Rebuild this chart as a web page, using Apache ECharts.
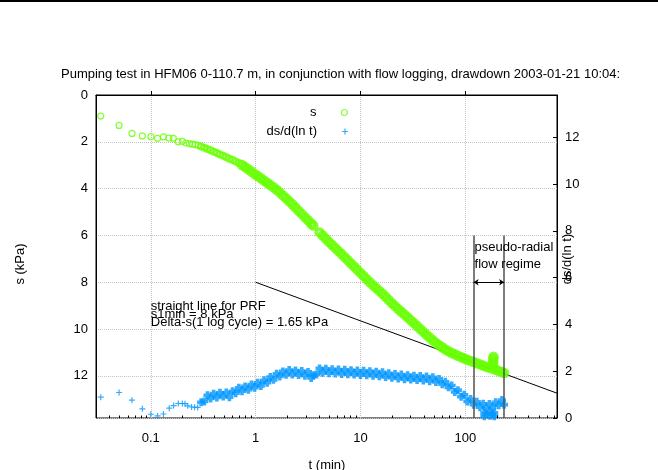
<!DOCTYPE html>
<html>
<head>
<meta charset="utf-8">
<script src="https://cdn.jsdelivr.net/npm/echarts@6/dist/echarts.min.js"></script>
<style>html,body{margin:0;padding:0;background:#fff}#c{width:658px;height:470px}</style>
</head>
<body>
<div id="c"></div>
<script>
// ---- data ----
const titleText = 'Pumping test in HFM06 0-110.7 m, in conjunction with flow logging, drawdown 2003-01-21 10:04:';
const xRange = [0.03, 750];
const yRange = [0, 13.8];
const yTickStep = 2;
const xMinorTicks = [0.04,0.05,0.06,0.07,0.08,0.09,0.2,0.3,0.4,0.5,0.6,0.7,0.8,0.9,2,3,4,5,6,7,8,9,20,30,40,50,60,70,80,90,200,300,400,500,600,700];

// drawdown s (kPa), left axis
const sTime = [0.0333,0.0498,0.0662,0.083,0.1,0.116,0.132,0.149,0.164,0.182,0.2,0.216,0.233,0.25,0.266,0.283,
  0.302,0.324,0.347,0.372,0.398,0.427,0.457,0.490,0.525,0.562,0.603,0.646,0.692,0.741,0.794,0.851,0.912,0.977,
  1.047,1.122,1.202,1.288,1.380,1.479,1.585,1.698,1.820,1.950,2.089,2.239,2.399,2.570,2.754,2.951,3.162,3.388,3.548,
  4.074,4.365,4.677,5.012,5.370,5.754,6.166,6.607,7.079,7.586,8.128,8.710,9.333,10.0,10.72,11.48,12.30,13.18,14.13,
  15.14,16.22,17.38,18.62,19.95,21.38,22.91,24.55,26.30,28.18,30.20,32.36,34.67,37.15,39.81,42.66,45.71,48.98,52.48,
  56.23,60.26,64.57,69.18,74.13,79.43,85.11,91.20,97.72,104.7,112.2,120.2,128.8,138.0,147.9,158.5,169.8,182.0,195.0,
  208.9,223.9,234.4,184,185,185,186];
const sValues = [0.90,1.30,1.64,1.75,1.78,1.85,1.79,1.84,1.85,2.00,1.98,2.05,2.08,2.10,2.12,2.15,
  2.20,2.25,2.31,2.36,2.42,2.48,2.54,2.60,2.66,2.72,2.78,2.84,2.91,2.99,3.08,3.17,3.27,3.37,
  3.46,3.56,3.65,3.75,3.85,3.94,4.05,4.16,4.29,4.41,4.54,4.67,4.81,4.95,5.08,5.22,5.35,5.49,5.58,
  5.87,6.00,6.14,6.28,6.41,6.54,6.67,6.79,6.93,7.06,7.20,7.33,7.47,7.60,7.73,7.87,8.00,8.13,8.25,
  8.37,8.49,8.62,8.76,8.90,9.02,9.14,9.26,9.38,9.50,9.62,9.74,9.87,10.00,10.12,10.24,10.36,10.48,10.59,
  10.69,10.78,10.87,10.95,11.02,11.08,11.14,11.20,11.26,11.31,11.36,11.41,11.46,11.51,11.56,11.61,11.65,11.69,11.74,
  11.79,11.84,11.88,11.52,11.40,11.28,11.18];

// ds/d(ln t), right axis
const dTime = [0.0333,0.0498,0.066,0.083,0.1,0.116,0.132,0.15,0.165,0.183,0.2,0.212,0.225,0.245,0.262,0.28,
  0.302,0.324,0.347,0.372,0.398,0.427,0.457,0.490,0.525,0.562,0.603,0.646,0.692,0.741,0.794,0.851,0.912,0.977,
  1.047,1.122,1.202,1.288,1.380,1.479,1.585,1.698,1.820,1.950,2.089,2.239,2.399,2.570,2.754,2.951,3.162,3.388,3.548,3.802,
  4.074,4.365,4.677,5.012,5.370,5.754,6.166,6.607,7.079,7.586,8.128,8.710,9.333,10.0,10.72,11.48,12.30,13.18,14.13,
  15.14,16.22,17.38,18.62,19.95,21.38,22.91,24.55,26.30,28.18,30.20,32.36,34.67,37.15,39.81,42.66,45.71,48.98,52.48,
  56.23,60.26,64.57,69.18,74.13,79.43,85.11,91.20,97.72,104.7,112.2,120.2,128.8,138.0,147.9,158.5,169.8,182.0,195.0,
  208.9,223.9,234.4,152,152,172,172,189,189];
const dValues = [0.89,1.09,0.76,0.39,0.16,0.09,0.17,0.42,0.53,0.62,0.62,0.61,0.52,0.47,0.46,0.45,
  0.67,0.71,0.97,0.83,1.04,0.88,1.08,0.92,1.09,0.89,1.14,1.06,1.29,1.14,1.35,1.21,1.43,1.29,
  1.51,1.37,1.61,1.51,1.75,1.63,1.89,1.77,1.99,1.85,2.05,1.86,2.03,1.84,2.01,1.81,1.97,1.71,1.83,1.86,
  2.12,1.93,2.10,1.91,2.08,1.90,2.07,1.88,2.06,1.87,2.04,1.86,2.03,1.84,2.02,1.83,2.00,1.81,1.98,
  1.78,1.95,1.75,1.91,1.72,1.88,1.69,1.86,1.66,1.83,1.64,1.81,1.62,1.79,1.60,1.77,1.57,1.74,1.54,
  1.67,1.44,1.55,1.31,1.39,1.11,1.19,0.91,0.99,0.71,0.81,0.57,0.69,0.46,0.61,0.41,0.60,0.44,0.67,
  0.55,0.77,0.57,0.22,0.08,0.25,0.10,0.22,0.07];

// straight line for PRF: s = 8 + 1.65 log10(t)
const prfLine = [[1, 8], [750, 12.74]];
const prfLabels = ['straight line for PRF', 's1min = 8 kPa', 'Delta-s(1 log cycle) = 1.65 kPa'];
const prfLabelAt = [[0.1, 9.05], [0.1, 9.38], [0.1, 9.7]];
const regimeBounds = [120, 235];
const regimeTop = 6;
const regimeArrowLevel = 8;
const regimeLabels = ['pseudo-radial', 'flow regime'];
const regimeLabelAt = [[120, 6.5], [120, 7.22]];

// ---- chart ----
const FONT = '"Liberation Sans", Arial, Helvetica, sans-serif';
const GREEN = '#66ff00';
const BLUE = '#0096ff';
const PLUS = 'path://M2,0H3V2H5V3H3V5H2V3H0V2H2Z';
const PLUS_BOLD = 'path://M1.65,0H4.35V1.65H6V4.35H4.35V6H1.65V4.35H0V1.65H1.65Z';
const zip = (a, b) => a.map((v, i) => [v, b[i]]);
const sPts = zip(sTime, sValues);
const dPts = zip(dTime, dValues);
// marker density tiers (styling only)
const tier = (pts, lo, hi) => pts.filter(p => p[0] >= lo && p[0] < hi);

const chart = echarts.init(document.getElementById('c'), null, {renderer: 'canvas'});
const sBase = {name: 's', type: 'scatter', xAxisIndex: 0, yAxisIndex: 0, symbol: 'circle', silent: true, z: 4};
const dBase = {name: 'ds/d(ln t)', type: 'scatter', xAxisIndex: 0, yAxisIndex: 1, silent: true, z: 3};
const option = {
  animation: false,
  backgroundColor: '#fff',
  textStyle: {fontFamily: FONT, color: '#000'},
  title: {
    text: titleText, left: 61, top: 68, padding: 0,
    textStyle: {fontFamily: FONT, fontSize: 13, fontWeight: 'normal', color: '#000'}
  },
  legend: [
    {data: [{name: 's', icon: 'circle', itemStyle: {color: 'rgba(0,0,0,0)', borderColor: GREEN, borderWidth: 1.2}}],
     right: 310, top: 106, align: 'right', itemWidth: 46, itemHeight: 6, padding: 0, selectedMode: false,
     textStyle: {fontFamily: FONT, fontSize: 13, color: '#000'}},
    {data: [{name: 'ds/d(ln t)', icon: PLUS, itemStyle: {color: BLUE, borderWidth: 0}}],
     right: 310, top: 125, align: 'right', itemWidth: 46, itemHeight: 6, padding: 0, selectedMode: false,
     textStyle: {fontFamily: FONT, fontSize: 13, color: '#000'}}
  ],
  grid: {left: 96, right: 101, top: 95, bottom: 52, show: true, borderColor: '#000', borderWidth: 1, backgroundColor: 'transparent'},
  xAxis: {
    type: 'log', logBase: 10, min: xRange[0], max: xRange[1],
    axisLine: {show: true, lineStyle: {color: '#000', width: 1}},
    axisTick: {show: true, inside: true, length: 4, lineStyle: {color: '#000'}},
    axisLabel: {color: '#000', fontSize: 13, fontFamily: FONT, margin: 14, showMinLabel: false, showMaxLabel: false,
      formatter: v => String(+v.toPrecision(6))},
    splitLine: {show: true, lineStyle: {type: 'dotted', color: '#c4c4c4', width: 1}},
    minorTick: {show: false}
  },
  yAxis: [
    {type: 'value', inverse: true, min: yRange[0], max: yRange[1], interval: yTickStep, position: 'left',
     axisLine: {show: true, lineStyle: {color: '#000'}},
     axisTick: {show: false},
     axisLabel: {color: '#000', fontSize: 13, fontFamily: FONT, margin: 8, showMaxLabel: false},
     splitLine: {show: true, lineStyle: {type: 'dotted', color: '#c4c4c4', width: 1}}},
    {type: 'value', min: yRange[0], max: yRange[1], interval: yTickStep, position: 'right',
     axisLine: {show: true, lineStyle: {color: '#000'}},
     axisTick: {show: true, inside: true, length: 4, lineStyle: {color: '#000'}},
     axisLabel: {color: '#000', fontSize: 13, fontFamily: FONT, margin: 8, showMaxLabel: false},
     splitLine: {show: false}}
  ],
  series: [
    {
      name: 'PRF', type: 'line', xAxisIndex: 0, yAxisIndex: 0, data: prfLine,
      showSymbol: false, symbol: 'none', silent: true, z: 2,
      lineStyle: {color: '#000', width: 1},
      markPoint: {
        silent: true, symbol: 'circle', symbolSize: 0,
        label: {show: true, position: 'right', distance: 0, color: '#000', fontSize: 13, fontFamily: FONT, formatter: '{b}'},
        data: prfLabels.map((t, i) => ({name: t, coord: prfLabelAt[i]}))
          .concat(regimeLabels.map((t, i) => ({name: t, coord: regimeLabelAt[i], label: {distance: 1}})))
      },
      markLine: {
        silent: true, animation: false,
        label: {show: false},
        data: [
          [{coord: [regimeBounds[0], regimeTop], symbol: 'none', lineStyle: {color: '#505050', width: 1.5, type: 'solid'}},
           {coord: [regimeBounds[0], yRange[1]], symbol: 'none'}],
          [{coord: [regimeBounds[1], regimeTop], symbol: 'none', lineStyle: {color: '#505050', width: 1.5, type: 'solid'}},
           {coord: [regimeBounds[1], yRange[1]], symbol: 'none'}],
          [{coord: [regimeBounds[0], regimeArrowLevel], symbol: 'arrow', symbolSize: 5, lineStyle: {color: '#000', width: 1, type: 'solid'}},
           {coord: [regimeBounds[1], regimeArrowLevel], symbol: 'arrow', symbolSize: 5}]
        ]
      }
    },
    Object.assign({}, dBase, {data: tier(dPts, 0, 0.3), symbol: PLUS, symbolSize: 6, itemStyle: {color: BLUE}}),
    Object.assign({}, dBase, {data: tier(dPts, 0.3, 1e9), symbol: PLUS_BOLD, symbolSize: 8, itemStyle: {color: BLUE}}),
    Object.assign({}, sBase, {data: tier(sPts, 0, 0.3), symbolSize: 6,
      itemStyle: {color: 'rgba(0,0,0,0)', borderColor: GREEN, borderWidth: 1.2}}),
    Object.assign({}, sBase, {data: tier(sPts, 0.3, 0.7), symbolSize: 6,
      itemStyle: {color: 'rgba(0,0,0,0)', borderColor: GREEN, borderWidth: 2}}),
    Object.assign({}, sBase, {data: tier(sPts, 0.7, 1e9), symbolSize: 7,
      itemStyle: {color: 'rgba(0,0,0,0)', borderColor: GREEN, borderWidth: 3.5}}),
    {
      name: 'minor', type: 'custom', xAxisIndex: 0, yAxisIndex: 0, silent: true, z: 5,
      data: xMinorTicks.map(v => [v, yRange[1]]),
      renderItem: (params, api) => {
        const p = api.coord([api.value(0), api.value(1)]);
        const x = Math.round(p[0]) + 0.5;
        return {type: 'line', shape: {x1: x, y1: p[1], x2: x, y2: p[1] - 2.5}, style: {stroke: '#000', lineWidth: 1}};
      }
    }
  ],
  graphic: [
    {type: 'rect', shape: {x: 0, y: 0, width: 658, height: 2}, style: {fill: '#000'}},
    {type: 'text', x: 20, y: 264, rotation: Math.PI / 2,
     style: {text: 's (kPa)', font: '13px ' + FONT, fill: '#000', align: 'center', verticalAlign: 'middle'}},
    {type: 'text', x: 567, y: 259, rotation: Math.PI / 2,
     style: {text: 'ds/d(ln t)', font: '13px ' + FONT, fill: '#000', align: 'center', verticalAlign: 'middle'}},
    {type: 'text', x: 327, y: 465,
     style: {text: 't (min)', font: '13px ' + FONT, fill: '#000', align: 'center', verticalAlign: 'middle'}}
  ]
};
chart.setOption(option);
</script>
</body>
</html>
